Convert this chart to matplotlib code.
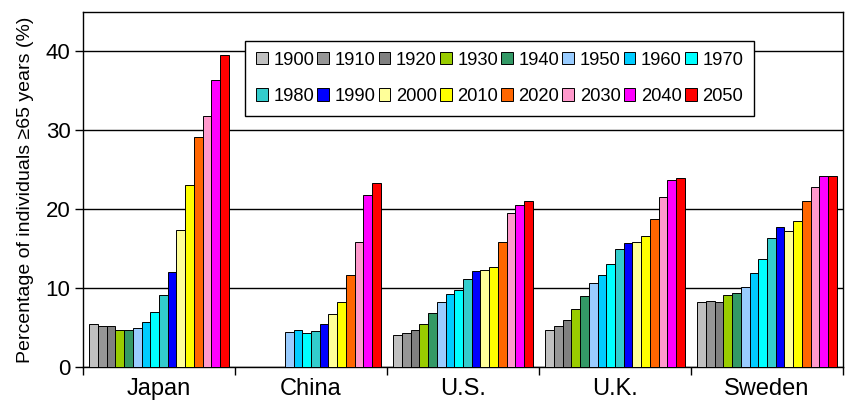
import numpy as np
import matplotlib
matplotlib.use("Agg")
import matplotlib.pyplot as plt

plt.rcParams['font.family'] = ['Liberation Sans', 'DejaVu Sans']

countries = ["Japan", "China", "U.S.", "U.K.", "Sweden"]
years = ["1900", "1910", "1920", "1930", "1940", "1950", "1960", "1970",
         "1980", "1990", "2000", "2010", "2020", "2030", "2040", "2050"]
colors = ["#C0C0C0", "#969696", "#808080", "#99CC00", "#339966", "#99CCFF",
          "#00CCFF", "#00FFFF", "#33CCCC", "#0000FF", "#FFFF99", "#FFFF00",
          "#FF6600", "#FF99CC", "#FF00FF", "#FF0000"]

# percentage of individuals >=65, one value per year (nan = no data)
japan = [5.4, 5.2, 5.2, 4.7, 4.7, 4.9, 5.7, 7.0, 9.1, 12.1, 17.4, 23.1, 29.2, 31.8, 36.4, 39.6]
china = [np.nan, np.nan, np.nan, np.nan, np.nan, 4.5, 4.7, 4.3, 4.6, 5.5, 6.7, 8.2, 11.7, 15.9, 21.8, 23.3]
us = [4.0, 4.3, 4.7, 5.4, 6.8, 8.3, 9.2, 9.8, 11.2, 12.2, 12.3, 12.7, 15.8, 19.5, 20.5, 21.0]
uk = [4.7, 5.2, 6.0, 7.4, 9.0, 10.7, 11.6, 13.0, 14.9, 15.7, 15.8, 16.6, 18.8, 21.6, 23.7, 24.0]
sweden = [8.3, 8.4, 8.3, 9.1, 9.4, 10.2, 11.9, 13.7, 16.3, 17.7, 17.3, 18.5, 21.1, 22.8, 24.2, 24.2]

data = np.array([japan, china, us, uk, sweden])

fig = plt.figure(figsize=(8.51, 4.0), dpi=100)
ax = fig.add_axes([0.0975, 0.0825, 0.8931, 0.8875])

x = np.arange(len(countries))
group_w = 0.918
bar_w = group_w / len(years)
bars = []
for i in range(len(years)):
    offs = -group_w / 2 + bar_w * (i + 0.5)
    b = ax.bar(x + offs, data[:, i], width=bar_w, color=colors[i],
               edgecolor="black", linewidth=0.7, label=years[i], zorder=3)
    bars.append(b)

ax.set_xlim(-0.5, len(countries) - 0.5)
ax.set_ylim(0, 45)
ax.set_yticks([0, 10, 20, 30, 40])
ax.yaxis.grid(True, color="black", linewidth=1.0, zorder=0)

ax.set_xticks(np.arange(-0.5, len(countries), 1.0))
ax.set_xticklabels([])
ax.set_xticks(x, minor=True)
ax.set_xticklabels(countries, minor=True)
ax.tick_params(axis="x", which="minor", length=0, pad=8, labelsize=17)
ax.tick_params(axis="x", which="major", length=6, width=1)
ax.tick_params(axis="y", length=6, width=1, labelsize=16, pad=3)

for s in ax.spines.values():
    s.set_linewidth(1.0)

ax.set_ylabel("Percentage of individuals \u226565 years (%)", fontsize=14.0, labelpad=8)

# legend fills column by column, so interleave to get years row by row
ncol = 8
order = [r * ncol + c for c in range(ncol) for r in range(2)]
leg = ax.legend([bars[k] for k in order], [years[k] for k in order],
                ncol=ncol, loc="upper left", bbox_to_anchor=(0.213, 0.713, 0.670, 0.206),
                mode="expand", fontsize=13.2, frameon=True, fancybox=False,
                edgecolor="black", framealpha=1, handlelength=0.65, handleheight=0.65,
                handletextpad=0.3, columnspacing=0.2, labelspacing=1.05,
                borderpad=0.6, borderaxespad=0)
leg.get_frame().set_linewidth(1.0)
leg.set_zorder(5)

fig.savefig("out.png", dpi=100)
